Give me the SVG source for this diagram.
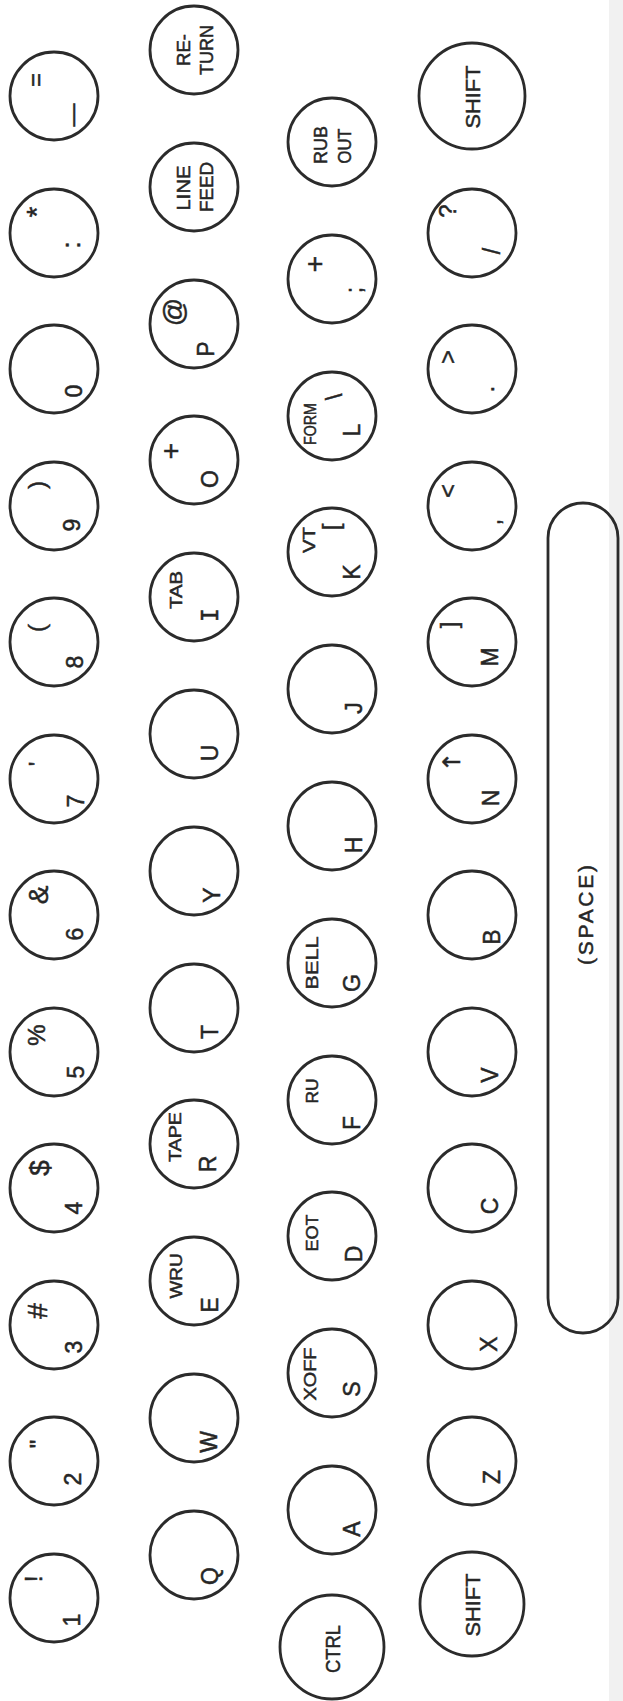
<svg xmlns="http://www.w3.org/2000/svg" width="623" height="1701" viewBox="0 0 623 1701">
<style>
.k{fill:none;stroke:#2b2b2b;stroke-width:2.8}
text{font-family:"Liberation Sans",Arial,sans-serif;fill:#262626;stroke:#262626;stroke-width:0.5;text-anchor:middle;dominant-baseline:central}
.m{font-size:23px}
.s{font-size:24px}
.S{font-size:28px}
.w{font-size:17px}
.b{font-size:21px}
.l{font-size:19px}
.serif{font-family:"DejaVu Sans Mono",monospace}
</style>
<rect width="623" height="1701" fill="#ffffff"/>
<rect x="609" y="0" width="14" height="1701" fill="#f1f1f1" stroke="none"/>
<g id="connectors"/>
<!-- Row 1 -->
<g id="key-minus"><circle class="k" cx="54" cy="96" r="44"/><text class="s" transform="translate(35 80) rotate(-90)">=</text><text class="m" transform="translate(72 115) rotate(-90)">—</text></g>
<g id="key-colon"><circle class="k" cx="54" cy="233" r="44"/><text class="S" transform="translate(36 212) rotate(-90)">*</text><text class="m" transform="translate(71 245) rotate(-90)" style="font-size:26px">:</text></g>
<g id="key-0"><circle class="k" cx="54" cy="369" r="44"/><text class="m" transform="translate(74 391) rotate(-90)">0</text></g>
<g id="key-9"><circle class="k" cx="54" cy="506" r="44"/><text class="s" transform="translate(36 485) rotate(-90)">)</text><text class="m" transform="translate(72 525) rotate(-90)">9</text></g>
<g id="key-8"><circle class="k" cx="54" cy="642" r="44"/><text class="s" transform="translate(36 628) rotate(-90)">(</text><text class="m" transform="translate(75 662) rotate(-90)">8</text></g>
<g id="key-7"><circle class="k" cx="54" cy="779" r="44"/><text class="s" transform="translate(37 764) rotate(-90)">'</text><text class="m" transform="translate(76 801) rotate(-90)">7</text></g>
<g id="key-6"><circle class="k" cx="54" cy="915" r="44"/><text class="S" transform="translate(38 895) rotate(-90)">&amp;</text><text class="m" transform="translate(75 934) rotate(-90)">6</text></g>
<g id="key-5"><circle class="k" cx="54" cy="1052" r="44"/><text class="s" transform="translate(36 1035) rotate(-90)">%</text><text class="m" transform="translate(76 1072) rotate(-90)">5</text></g>
<g id="key-4"><circle class="k" cx="54" cy="1188" r="44"/><text class="S" transform="translate(39 1168) rotate(-90)">$</text><text class="m" transform="translate(74 1208) rotate(-90)">4</text></g>
<g id="key-3"><circle class="k" cx="54" cy="1325" r="44"/><text class="S" transform="translate(37 1311) rotate(-90)">#</text><text class="m" transform="translate(74 1347) rotate(-90)">3</text></g>
<g id="key-2"><circle class="k" cx="54" cy="1461" r="44"/><text class="s" transform="translate(38 1444) rotate(-90)">"</text><text class="m" transform="translate(73 1479) rotate(-90)">2</text></g>
<g id="key-1"><circle class="k" cx="54" cy="1598" r="44"/><text class="s" transform="translate(33 1579) rotate(-90)">!</text><text class="m" transform="translate(72 1620) rotate(-90)">1</text></g>
<!-- Row 2 -->
<g id="key-return"><circle class="k" cx="194" cy="50" r="44"/><text class="l" transform="translate(183 50) rotate(-90)" textLength="32" lengthAdjust="spacingAndGlyphs">RE-</text><text class="l" transform="translate(206 50) rotate(-90)" textLength="50" lengthAdjust="spacingAndGlyphs">TURN</text></g>
<g id="key-linefeed"><circle class="k" cx="194" cy="187" r="44"/><text class="l" transform="translate(183 188) rotate(-90)" textLength="45" lengthAdjust="spacingAndGlyphs">LINE</text><text class="l" transform="translate(206 187) rotate(-90)" textLength="50" lengthAdjust="spacingAndGlyphs">FEED</text></g>
<g id="key-p"><circle class="k" cx="194" cy="324" r="44"/><text class="S" transform="translate(173 312) rotate(-90)">@</text><text class="m" transform="translate(206 349) rotate(-90)">P</text></g>
<g id="key-o"><circle class="k" cx="194" cy="460" r="44"/><text class="S" transform="translate(170 451) rotate(-90)">+</text><text class="m" transform="translate(210 479) rotate(-90)">O</text></g>
<g id="key-i"><circle class="k" cx="194" cy="597" r="44"/><text class="w" transform="translate(176 590) rotate(-90)" textLength="38" lengthAdjust="spacingAndGlyphs">TAB</text><text class="m serif" transform="translate(210 615) rotate(-90)">I</text></g>
<g id="key-u"><circle class="k" cx="194" cy="734" r="44"/><text class="m" transform="translate(210 753) rotate(-90)">U</text></g>
<g id="key-y"><circle class="k" cx="194" cy="871" r="44"/><text class="m" transform="translate(212 895) rotate(-90)">Y</text></g>
<g id="key-t"><circle class="k" cx="194" cy="1008" r="44"/><text class="m" transform="translate(210 1032) rotate(-90)">T</text></g>
<g id="key-r"><circle class="k" cx="194" cy="1144" r="44"/><text class="w" transform="translate(175 1137) rotate(-90)" textLength="50" lengthAdjust="spacingAndGlyphs">TAPE</text><text class="m" transform="translate(208 1164) rotate(-90)">R</text></g>
<g id="key-e"><circle class="k" cx="194" cy="1281" r="44"/><text class="w" transform="translate(176 1276) rotate(-90)" textLength="45" lengthAdjust="spacingAndGlyphs">WRU</text><text class="m" transform="translate(210 1305) rotate(-90)">E</text></g>
<g id="key-w"><circle class="k" cx="194" cy="1418" r="44"/><text class="m" transform="translate(209 1442) rotate(-90)">W</text></g>
<g id="key-q"><circle class="k" cx="194" cy="1555" r="44"/><text class="m" transform="translate(210 1576) rotate(-90)">Q</text></g>
<!-- Row 3 -->
<g id="key-rubout"><circle class="k" cx="332" cy="142" r="44"/><text class="l" transform="translate(320 145) rotate(-90)" textLength="38" lengthAdjust="spacingAndGlyphs">RUB</text><text class="l" transform="translate(344 146) rotate(-90)" textLength="35" lengthAdjust="spacingAndGlyphs">OUT</text></g>
<g id="key-semicolon"><circle class="k" cx="332" cy="279" r="44"/><text class="S" transform="translate(314 264) rotate(-90)">+</text><text class="m" transform="translate(354 290) rotate(-90)">;</text></g>
<g id="key-l"><circle class="k" cx="332" cy="416" r="44"/><text class="w" transform="translate(310 424) rotate(-90)" textLength="42" lengthAdjust="spacingAndGlyphs">FORM</text><text class="s" transform="translate(333 397) rotate(-90)">\</text><text class="m" transform="translate(352 430) rotate(-90)">L</text></g>
<g id="key-k"><circle class="k" cx="332" cy="552" r="44"/><text class="w" transform="translate(309 540) rotate(-90)" textLength="26" lengthAdjust="spacingAndGlyphs">VT</text><text class="s" transform="translate(330 527) rotate(-90)">[</text><text class="m" transform="translate(352 572) rotate(-90)">K</text></g>
<g id="key-j"><circle class="k" cx="332" cy="689" r="44"/><text class="m" transform="translate(354 708) rotate(-90)">J</text></g>
<g id="key-h"><circle class="k" cx="332" cy="826" r="44"/><text class="m" transform="translate(354 845) rotate(-90)">H</text></g>
<g id="key-g"><circle class="k" cx="332" cy="963" r="44"/><text class="w" transform="translate(312 963) rotate(-90)" textLength="53" lengthAdjust="spacingAndGlyphs">BELL</text><text class="m" transform="translate(352 983) rotate(-90)">G</text></g>
<g id="key-f"><circle class="k" cx="332" cy="1100" r="44"/><text class="w" transform="translate(312 1091) rotate(-90)" textLength="25" lengthAdjust="spacingAndGlyphs">RU</text><text class="m" transform="translate(352 1123) rotate(-90)">F</text></g>
<g id="key-d"><circle class="k" cx="332" cy="1236" r="44"/><text class="w" transform="translate(312 1233) rotate(-90)" textLength="37" lengthAdjust="spacingAndGlyphs">EOT</text><text class="m" transform="translate(354 1254) rotate(-90)">D</text></g>
<g id="key-s"><circle class="k" cx="332" cy="1373" r="44"/><text class="w" transform="translate(310 1374) rotate(-90)" textLength="53" lengthAdjust="spacingAndGlyphs">XOFF</text><text class="m" transform="translate(352 1389) rotate(-90)">S</text></g>
<g id="key-a"><circle class="k" cx="332" cy="1510" r="44"/><text class="m" transform="translate(352 1529) rotate(-90)">A</text></g>
<g id="key-ctrl"><circle class="k" cx="332" cy="1647" r="52"/><text class="b" transform="translate(332 1649) rotate(-90)" textLength="48" lengthAdjust="spacingAndGlyphs">CTRL</text></g>
<!-- Row 4 -->
<g id="key-shift-right"><circle class="k" cx="472" cy="96" r="53"/><text class="b" transform="translate(472 97) rotate(-90)" textLength="63" lengthAdjust="spacingAndGlyphs">SHIFT</text></g>
<g id="key-slash"><circle class="k" cx="472" cy="233" r="44"/><text class="s" transform="translate(447 211) rotate(-90)">?</text><text class="m" transform="translate(492 251) rotate(-90)">/</text></g>
<g id="key-period"><circle class="k" cx="472" cy="369" r="44"/><text class="s" transform="translate(447 357) rotate(-90)">&gt;</text><text class="m" transform="translate(486 389) rotate(-90)">.</text></g>
<g id="key-comma"><circle class="k" cx="472" cy="506" r="44"/><text class="s" transform="translate(447 491) rotate(-90)">&lt;</text><text class="m" transform="translate(492 522) rotate(-90)">,</text></g>
<g id="key-m"><circle class="k" cx="472" cy="642" r="44"/><text class="s" transform="translate(448 625) rotate(-90)">]</text><text class="m" transform="translate(490 657) rotate(-90)">M</text></g>
<g id="key-n"><circle class="k" cx="472" cy="779" r="44"/><text class="s" transform="translate(452 762) rotate(-90)" style="font-family:'DejaVu Sans',sans-serif">↑</text><text class="m" transform="translate(491 798) rotate(-90)">N</text></g>
<g id="key-b"><circle class="k" cx="472" cy="915" r="44"/><text class="m" transform="translate(492 937) rotate(-90)">B</text></g>
<g id="key-v"><circle class="k" cx="472" cy="1052" r="44"/><text class="m" transform="translate(490 1075) rotate(-90)">V</text></g>
<g id="key-c"><circle class="k" cx="472" cy="1188" r="44"/><text class="m" transform="translate(490 1206) rotate(-90)">C</text></g>
<g id="key-x"><circle class="k" cx="472" cy="1325" r="44"/><text class="m" transform="translate(489 1344) rotate(-90)">X</text></g>
<g id="key-z"><circle class="k" cx="472" cy="1461" r="44"/><text class="m" transform="translate(492 1477) rotate(-90)">Z</text></g>
<g id="key-shift-left"><circle class="k" cx="472" cy="1604" r="52"/><text class="b" transform="translate(472 1605) rotate(-90)" textLength="63" lengthAdjust="spacingAndGlyphs">SHIFT</text></g>
<!-- Space bar -->
<g id="key-space"><rect class="k" x="548" y="503" width="70" height="830" rx="35" ry="35"/><text class="b" transform="translate(585 915) rotate(-90)" textLength="100" lengthAdjust="spacing">(SPACE)</text></g>
</svg>
